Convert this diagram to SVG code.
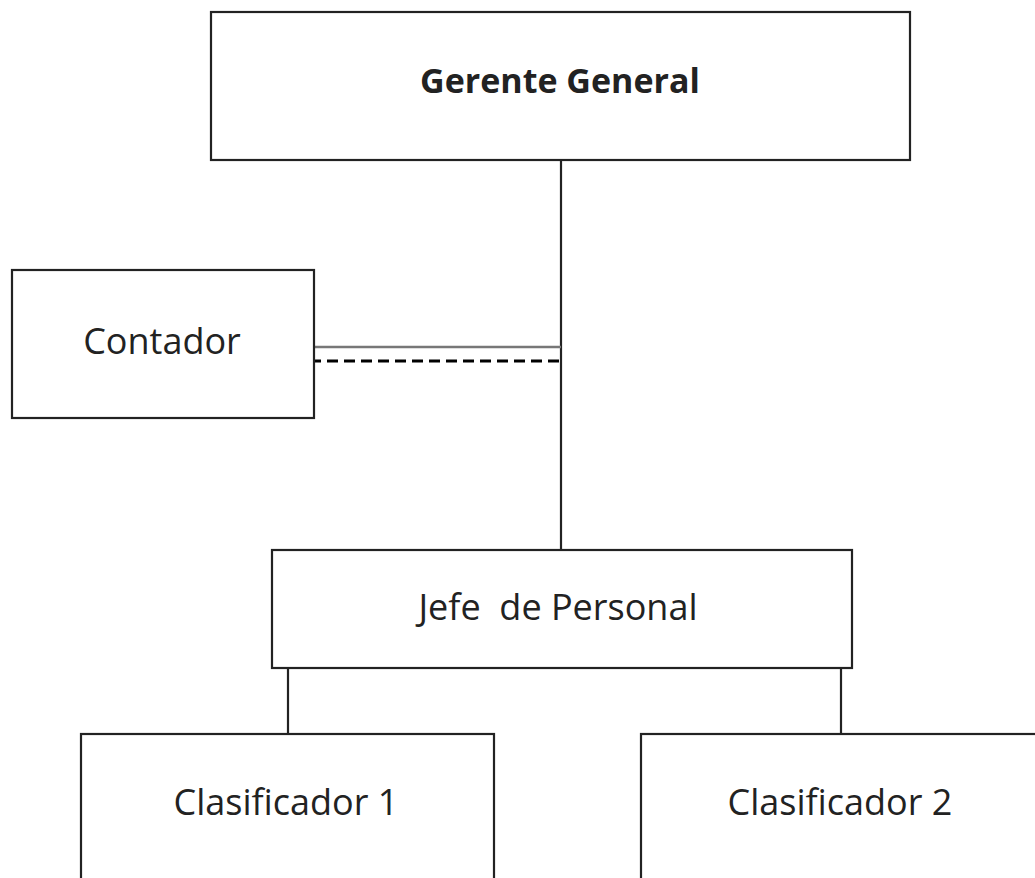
<svg xmlns="http://www.w3.org/2000/svg" width="1035" height="878" viewBox="0 0 1035 878">
<style>
.box{fill:#fff;stroke:#222;stroke-width:2.2}
.lbl{font-family:"Open Sans","Noto Sans",sans-serif;font-size:36px;fill:#222;text-anchor:middle}
.b{font-weight:bold;font-size:34px}
.ln{stroke:#222;stroke-width:2.2;fill:none}
</style>
<rect width="1035" height="878" fill="#fff"/>
<g id="connectors">
<line class="ln" x1="561" y1="160" x2="561" y2="550"/>
<line x1="314" y1="347" x2="561" y2="347" stroke="#777" stroke-width="2.5"/>
<line x1="310" y1="361" x2="561" y2="361" stroke="#000" stroke-width="3" stroke-dasharray="11,6"/>
<line class="ln" x1="288" y1="668" x2="288" y2="734"/>
<line class="ln" x1="841" y1="668" x2="841" y2="734"/>
</g>
<g id="gerente">
<rect class="box" x="211" y="12" width="699" height="148"/>
<text class="lbl b" x="560" y="93">Gerente General</text>
</g>
<g id="contador">
<rect class="box" x="12" y="270" width="302" height="148"/>
<text class="lbl" x="162" y="354">Contador</text>
</g>
<g id="jefe">
<rect class="box" x="272" y="550" width="580" height="118"/>
<text class="lbl" x="558" y="620" xml:space="preserve">Jefe  de Personal</text>
</g>
<g id="clasificador1">
<rect class="box" x="81" y="734" width="413" height="160"/>
<text class="lbl" x="286" y="815">Clasificador 1</text>
</g>
<g id="clasificador2">
<rect class="box" x="641" y="734" width="420" height="160"/>
<text class="lbl" x="840" y="815">Clasificador 2</text>
</g>
</svg>
